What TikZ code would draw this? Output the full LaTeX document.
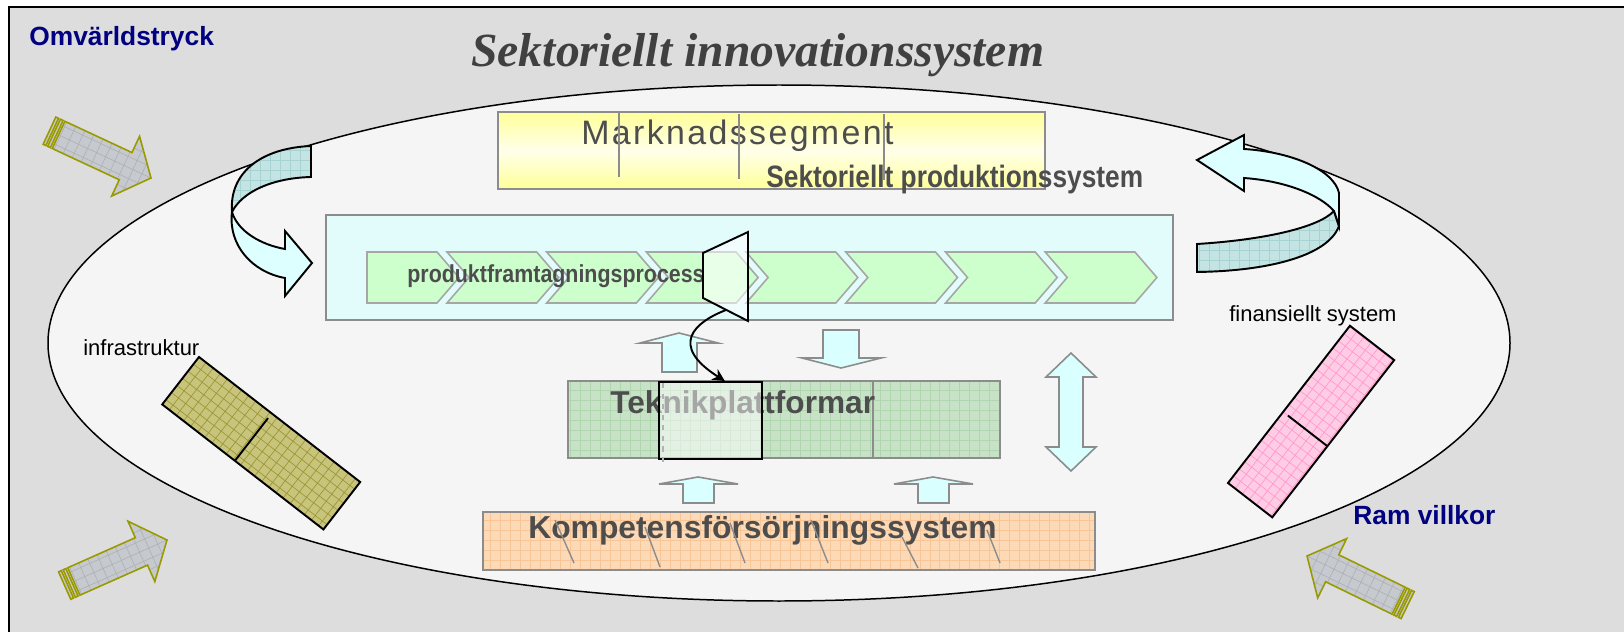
\documentclass[tikz,border=0pt]{standalone}
\usepackage{fontspec}
\usepackage{graphicx}
\setmainfont{Liberation Serif}
\setsansfont{Liberation Sans}
\newfontfamily\spacedsans[LetterSpace=7]{Liberation Sans}
\usetikzlibrary{arrows.meta}

\definecolor{backgray}{HTML}{DDDDDD}
\definecolor{ovalfill}{HTML}{F5F5F5}
\definecolor{navyblue}{HTML}{000080}
\definecolor{titlegray}{HTML}{404040}
\definecolor{textgray}{HTML}{4D4D4D}
\definecolor{boxgray}{HTML}{8C8C8C}
\definecolor{marketyellow}{HTML}{FFFF99}
\definecolor{marketlight}{HTML}{FFFFEA}
\definecolor{prodcyan}{HTML}{E2FBFB}
\definecolor{chevgreen}{HTML}{CCFFCC}
\definecolor{chevgray}{HTML}{A6A6A6}
\definecolor{techgreen}{HTML}{C8E2C8}
\definecolor{techgrid}{HTML}{B0D6B0}
\definecolor{compfill}{HTML}{FCDAB8}
\definecolor{compgrid}{HTML}{F8C596}
\definecolor{arrowcyan}{HTML}{D9FFFF}
\definecolor{backteal}{HTML}{C4E4E4}
\definecolor{tealgrid}{HTML}{A6D2D2}
\definecolor{frontcyan}{HTML}{DEFFFF}
\definecolor{barolive}{HTML}{C8C47C}
\definecolor{barolivegrid}{HTML}{9C9838}
\definecolor{barpink}{HTML}{FFCCE6}
\definecolor{barpinkgrid}{HTML}{FF9ACC}
\definecolor{pressolive}{HTML}{999900}
\definecolor{pressfill}{HTML}{C6CACE}
\definecolor{pressgrid}{HTML}{ADB1B6}

% pressure arrow, tip at #1, turned by #2
\newcommand{\pressarrow}[2]{%
  \begin{scope}[shift={(#1)}, rotate=#2]
    \fill[pressfill] (0,0) -- (-28,33) -- (-28,15) -- (-102,15) -- (-102,-15) -- (-28,-15) -- (-28,-33) -- cycle;
    \begin{scope}
      \clip (0,0) -- (-28,33) -- (-28,15) -- (-102,15) -- (-102,-15) -- (-28,-15) -- (-28,-33) -- cycle;
      \draw[pressgrid, line width=0.35pt, step=0.2cm] (-110,40) grid (0,-40);
    \end{scope}
    \draw[pressline] (0,0) -- (-28,33) -- (-28,15) -- (-102,15) -- (-102,-15) -- (-28,-15) -- (-28,-33) -- cycle;
    \draw[pressline, fill=pressfill] (-107,15) rectangle (-104,-15);
    \draw[pressline, fill=pressfill] (-112,15) rectangle (-109,-15);
  \end{scope}}

\begin{document}
\begin{tikzpicture}[x=0.02cm, y=-0.02cm,
    rim/.style={draw=black, line width=1.1pt},
    boxline/.style={draw=boxgray, line width=0.9pt},
    blockarrow/.style={fill=arrowcyan, draw=boxgray, line width=0.9pt},
    chevron/.style={fill=chevgreen, draw=chevgray, line width=0.9pt},
    pressline/.style={draw=pressolive, line width=0.9pt},
    heading/.style={anchor=base west, inner sep=0pt, text=navyblue, font=\sffamily\bfseries\fontsize{15}{18}\selectfont},
    boxtext/.style={anchor=base west, inner sep=0pt, text=textgray, font=\sffamily\bfseries\fontsize{17.6}{20}\selectfont},
    barlabel/.style={anchor=base west, inner sep=0pt, font=\sffamily\fontsize{12.5}{14}\selectfont}]
	%background and frame
	\useasboundingbox (0,0) rectangle (1624,632);
	\fill[white] (0,0) rectangle (1624,632);
	\fill[backgray] (9,7) rectangle (1624,632);
	\draw[line width=1.1pt] (9,632) -- (9,7) -- (1624,7);
	%system border
	\draw[fill=ovalfill, line width=0.85pt] (779,343) ellipse [x radius=731, y radius=258];
	%titles
	\node[heading] (pressure) at (29,45) {Omvärldstryck};
	\node[anchor=base west, inner sep=0pt, text=titlegray, font=\bfseries\itshape\fontsize{27.1}{32}\selectfont] (title) at (471,66) {Sektoriellt innovationssystem};
	\node[heading] (rules) at (1353,524) {Ram villkor};
	%pressure arrows
	\pressarrow{151,178}{-25}
	\pressarrow{167,540}{24}
	\pressarrow{1307,556}{154}
	%market segments
	\shade[top color=marketyellow, bottom color=marketyellow, middle color=marketlight] (498,112) rectangle (1045,189);
	\draw[boxline] (498,112) rectangle (1045,189);
	\node[anchor=base west, inner sep=0pt, text=textgray, font=\spacedsans\fontsize{19.3}{22}\selectfont] (segment) at (581,144) {Marknadssegment};
	\node[boxtext] (prodsys) at (766,187) {\scalebox{0.85}[1]{Sektoriellt produktionssystem}};
	\foreach \x/\a/\b in {619/112/177, 739/114/179, 884/114/180}
		\draw[boxgray, line width=1pt] (\x,\a) -- (\x,\b);
	%production process
	\draw[boxline, fill=prodcyan] (326,215) rectangle (1173,320);
	\foreach \i in {0,...,7} {
		\pgfmathsetmacro{\xt}{459+99.7*\i}
		\pgfmathsetmacro{\xl}{ifthenelse(\i==0,367,\xt-111.7)}
		\pgfmathsetmacro{\xn}{ifthenelse(\i==0,367,\xt-89.7)}
		\path[chevron] (\xl,252) -- (\xt-22,252) -- (\xt,277.5) -- (\xt-22,303) -- (\xl,303) -- (\xn,277.5) -- cycle;
	}
	\node[anchor=base west, inner sep=0pt, text=textgray, font=\sffamily\bfseries\fontsize{14}{16}\selectfont] (process) at (407,282) {\scalebox{0.87}[1]{produktframtagningsprocess}};
	%lens
	\draw[rim, fill=white, fill opacity=0.55] (703,253) -- (748,232) -- (748,321) -- (703,298) -- cycle;
	\coordinate (lensbottom) at (726,310);
	%flow arrows
	\path[blockarrow] (679,333) -- (718,343) -- (697,343) -- (697,372) -- (662,372) -- (662,343) -- (640,343) -- cycle;
	\path[blockarrow] (841,368) -- (881,358) -- (859,358) -- (859,330) -- (823,330) -- (823,358) -- (802,358) -- cycle;
	\foreach \cx in {698,933}
		\path[blockarrow] (\cx,477) -- (\cx+40,484) -- (\cx+16,484) -- (\cx+16,503) -- (\cx-15,503) -- (\cx-15,484) -- (\cx-39,484) -- cycle;
	\path[blockarrow] (1071,353) -- (1096,377) -- (1083,377) -- (1083,447) -- (1096,447) -- (1071,471) -- (1046,447) -- (1059,447) -- (1059,377) -- (1046,377) -- cycle;
	%technology platforms
	\fill[techgreen] (568,381) rectangle (1000,458);
	\draw[techgrid, line width=0.35pt, step=0.2cm] (568,458) grid (1000,381);
	\draw[boxline] (568,381) rectangle (1000,458);
	\draw[boxgray, line width=0.9pt] (873,381) -- (873,458);
	\node[boxtext, font=\sffamily\bfseries\fontsize{18}{21}\selectfont] (platforms) at (610,413) {Teknikplattformar};
	\node[rim, fill=white, fill opacity=0.5, anchor=north west, inner sep=0pt, minimum width=2.06cm, minimum height=1.54cm] (focus) at (658,381) {};
	\draw[gray!60, dashed, line width=0.8pt] (663,383) -- (663,462);
	\draw[line width=1.1pt, -{Stealth[length=7pt, width=7pt]}] (lensbottom) .. controls (695,322) and (668,345) .. (focus.70);
	%competence supply
	\fill[compfill] (483,512) rectangle (1095,570);
	\draw[compgrid, line width=0.35pt, step=0.2cm] (483,570) grid (1095,512);
	\draw[boxline] (483,512) rectangle (1095,570);
	\node[boxtext, font=\sffamily\bfseries\fontsize{18.1}{21}\selectfont] (skills) at (528,538) {Kompetensförsörjningssystem};
	\foreach \x/\a/\u/\b in {555/520/574/563, 645/527/660/567, 730/523/745/563, 811/520/828/563, 902/537/918/568, 987/530/1000/563}
		\draw[boxgray, line width=0.8pt] (\x,\a) -- (\u,\b);
	%infrastructure bar
	\begin{scope}[shift={(199,357)}, rotate=-37.8]
		\fill[barolive] (0,0) rectangle (204,60);
		\draw[barolivegrid, line width=0.4pt, step=0.18cm] (0,60) grid (204,0);
		\draw[rim] (0,0) rectangle (204,60);
		\draw[rim] (92,6) -- (92,60);
	\end{scope}
	\node[barlabel] (infra) at (83,355) {infrastruktur};
	%finance bar
	\begin{scope}[shift={(1228,483)}, rotate=52.2]
		\fill[barpink] (0,0) rectangle (199,56);
		\draw[barpinkgrid, line width=0.4pt, step=0.18cm] (0,56) grid (199,0);
		\draw[rim] (0,0) rectangle (199,56);
		\draw[rim] (90,6) -- (90,56);
	\end{scope}
	\node[barlabel] (finance) at (1229,321) {finansiellt system};
	%left turning arrow
	\fill[backteal] (311,146) .. controls (262,148) and (229,172) .. (232,212) .. controls (242,192) and (272,178) .. (311,177) -- cycle;
	\begin{scope}
		\clip (311,146) .. controls (262,148) and (229,172) .. (232,212) .. controls (242,192) and (272,178) .. (311,177) -- cycle;
		\draw[tealgrid, line width=0.35pt, step=0.2cm] (220,220) grid (320,140);
	\end{scope}
	\draw[rim] (311,146) .. controls (262,148) and (229,172) .. (232,212) .. controls (242,192) and (272,178) .. (311,177) -- cycle;
	\draw[rim, fill=frontcyan] (232,212) .. controls (228,245) and (252,272) .. (285,278) -- (285,296) -- (312,263) -- (285,231) -- (285,249) .. controls (262,245) and (238,232) .. (232,212) -- cycle;
	%right turning arrow
	\fill[backteal] (1197,244) .. controls (1262,240) and (1318,228) .. (1334,211) -- (1339,226) .. controls (1328,256) and (1268,271) .. (1197,272) -- cycle;
	\begin{scope}
		\clip (1197,244) .. controls (1262,240) and (1318,228) .. (1334,211) -- (1339,226) .. controls (1328,256) and (1268,271) .. (1197,272) -- cycle;
		\draw[tealgrid, line width=0.35pt, step=0.2cm] (1190,280) grid (1345,200);
	\end{scope}
	\draw[rim] (1197,244) .. controls (1262,240) and (1318,228) .. (1334,211) -- (1339,226) .. controls (1328,256) and (1268,271) .. (1197,272) -- cycle;
	\draw[rim, fill=frontcyan] (1339,226) -- (1339,193) .. controls (1334,170) and (1292,152) .. (1244,149) -- (1244,135) -- (1197,160) -- (1244,191) -- (1244,178) .. controls (1286,181) and (1320,195) .. (1334,211) -- cycle;
\end{tikzpicture}
\end{document}
